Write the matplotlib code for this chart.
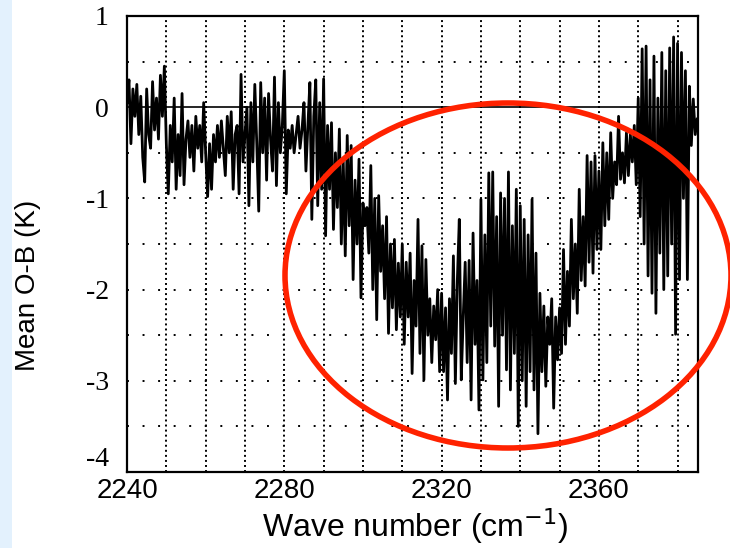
import numpy as np
import matplotlib
matplotlib.use("Agg")
import matplotlib.pyplot as plt
from matplotlib.patches import Ellipse, Rectangle

# mean O-B per 0.5 cm-1 (10 cm-1 each)
ob_2240 = [0.05, 0.3, -0.4, 0.2, -0.1, 0.25, -0.3, 0.12, -0.55, -0.82,
           0.2, -0.3, -0.45, 0.28, -0.25, 0.1, -0.35, 0.35, -0.1, 0.45]
ob_2250 = [-0.4, -0.95, -0.2, -0.6, 0.1, -0.9, -0.3, -0.75, 0.15, -0.85,
           -0.35, -0.15, -0.55, -0.2, -0.7, -0.1, -0.45, -0.2, -0.6, 0.05]
ob_2260 = [-0.5, -0.98, -0.4, -0.9, -0.3, -0.6, -0.2, -0.55, -0.15, -0.45,
           -0.75, -0.1, -0.5, -0.05, -0.9, -0.3, -0.2, -0.95, 0.36, -0.6]
ob_2270 = [-0.3, 0.0, -1.08, 0.05, -0.6, 0.25, -0.4, -1.14, 0.27, -0.5,
           0.1, -0.8, 0.15, -0.35, -0.7, 0.33, -0.86, 0.05, -0.5, -0.2]
ob_2280 = [0.4, -0.95, -0.25, -0.45, -0.2, -0.5, -0.3, -0.1, -0.45, -0.25,
           0.05, -0.7, -0.2, 0.27, -1.23, -0.1, 0.3, -1.08, 0.05, -0.9]
ob_2290 = [0.31, -1.41, -0.2, -0.9, -0.17, -1.34, -0.5, -1.1, -0.24, -1.5,
           -0.6, -1.63, -0.31, -1.3, -0.42, -1.89, -0.8, -1.5, -0.57, -2.09]
ob_2300 = [-1.05, -1.3, -1.1, -1.6, -0.64, -2.0, -1.0, -2.33, -0.97, -1.8,
           -1.3, -2.1, -1.2, -2.48, -1.5, -2.2, -1.45, -2.44, -1.71, -2.3]
ob_2310 = [-1.5, -2.6, -1.7, -2.3, -1.6, -2.92, -1.9, -2.4, -1.23, -2.7,
           -1.52, -2.99, -1.67, -2.5, -2.1, -2.8, -2.18, -2.55, -2.0, -2.9]
ob_2320 = [-2.04, -2.9, -2.2, -3.21, -2.1, -2.7, -1.63, -3.03, -1.9, -1.23,
           -2.99, -2.3, -1.7, -2.8, -1.68, -3.21, -1.38, -2.6, -1.9, -3.32]
ob_2330 = [-1.01, -2.99, -1.4, -2.8, -0.72, -2.4, -0.71, -2.62, -1.2, -3.28,
           -0.94, -2.5, -1.0, -2.88, -0.71, -3.1, -1.3, -2.7, -0.9, -3.5]
ob_2340 = [-1.08, -3.0, -1.23, -3.28, -1.4, -2.9, -1.01, -3.1, -1.6, -3.58,
           -2.04, -2.9, -2.18, -3.06, -2.3, -2.6, -2.1, -3.3, -2.3, -2.77]
ob_2350 = [-2.2, -2.7, -1.56, -2.6, -1.8, -2.4, -1.23, -2.1, -1.5, -2.26,
           -0.9, -1.9, -1.2, -1.96, -0.53, -1.7, -0.6, -1.82, -0.53, -1.56]
ob_2360 = [-0.7, -1.56, -0.39, -1.3, -0.5, -1.23, -0.28, -1.0, -0.6, -0.85,
           -0.1, -0.79, -0.5, -0.83, -0.28, -0.75, -0.3, -0.6, -0.2, -0.85]
ob_2370 = [0.1, -1.2, 0.64, -1.5, 0.67, -1.85, 0.3, -2.04, 0.56, -2.26,
           0.1, -1.6, 0.6, -2.0, 0.4, -1.85, 0.65, -1.5, 0.77, -2.49]
ob_2380 = [0.7, -1.89, 0.6, -1.0, 0.4, -1.89, 0.23, -0.42, 0.09, -0.3, -0.13]

mean_ob = np.array(ob_2240 + ob_2250 + ob_2260 + ob_2270 + ob_2280 + ob_2290
                   + ob_2300 + ob_2310 + ob_2320 + ob_2330 + ob_2340
                   + ob_2350 + ob_2360 + ob_2370 + ob_2380)
wavenumber = 2240.0 + 0.5 * np.arange(len(mean_ob))

xticks = [2240, 2280, 2320, 2360]
yticks = [1, 0, -1, -2, -3, -4]

fig = plt.figure(figsize=(7.3, 5.48), dpi=100)
fig.patch.set_facecolor("white")

# light blue strip at the left edge of the slide
fig.add_artist(Rectangle((0, 0), 12 / 730, 1, transform=fig.transFigure,
                         facecolor="#E3F1FD", edgecolor="none", zorder=0))

ax = fig.add_axes([127 / 730, 1 - 472 / 548, 571 / 730, 456 / 548])
ax.set_xlim(2240, 2385.2)
ax.set_ylim(-4, 1)

# dotted grid: every 10 cm-1 and every 0.5 K
ax.xaxis.set_major_locator(plt.FixedLocator(xticks))
ax.yaxis.set_major_locator(plt.FixedLocator(yticks))
for x in np.arange(2250, 2385, 10):
    ax.axvline(x, color="black", linewidth=1.4, linestyle=(0, (1, 1.6)), zorder=1)
for y in np.arange(-3.5, 1.0, 0.5):
    if y == 0:
        continue
    ax.axhline(y, color="black", linewidth=1.4, linestyle=(0, (1, 7)), zorder=1)
ax.axhline(0, color="black", linewidth=1.2, zorder=2)

ax.plot(wavenumber, mean_ob, color="black", linewidth=2.0, zorder=3)

for s in ax.spines.values():
    s.set_linewidth(1.6)
ax.tick_params(which="both", direction="in", length=0)
ax.tick_params(axis="x", pad=4)
ax.tick_params(axis="y", pad=13)
ax.set_xticklabels([str(v) for v in xticks], fontsize=20, family="Liberation Sans")
ax.set_yticklabels([str(v) for v in yticks], fontsize=20, family="Liberation Serif")
# the bottom "-4" sits a little above its tick, clear of "2240"
ax.get_yticklabels()[-1].set_verticalalignment("bottom")

ax.set_xlabel("Wave number (cm$^{-1}$)", fontsize=23, family="Liberation Sans")
ax.xaxis.set_label_coords(0.504, -0.075)
ax.set_ylabel("Mean O-B (K)", fontsize=20, family="Liberation Sans")
ax.yaxis.set_label_coords(-0.15, 0.41)

# red ellipse marking the CO2 band region
fig.add_artist(Ellipse((508 / 730, 1 - 275.5 / 548), 446 / 730, 345 / 548,
                       transform=fig.transFigure, fill=False,
                       edgecolor="#FF2200", linewidth=4, zorder=10))

fig.savefig("out.png", dpi=100)
